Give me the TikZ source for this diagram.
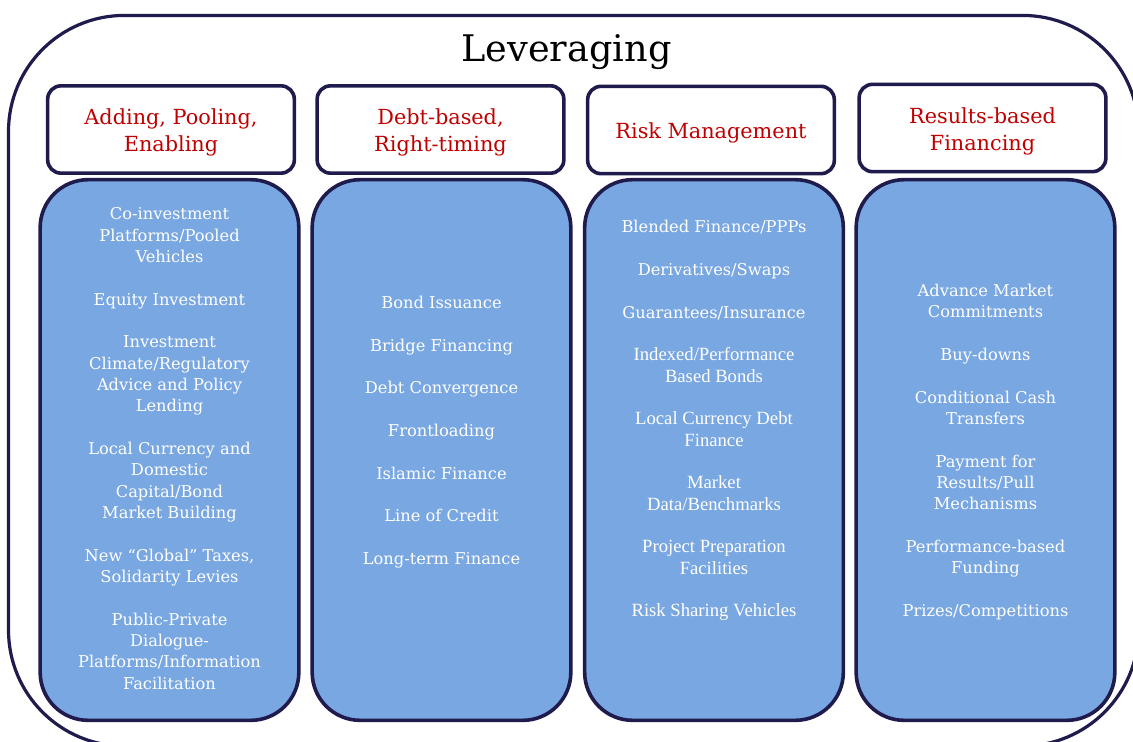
\documentclass[tikz,border=0pt]{standalone}
\usepackage{fontspec}
\setmainfont{DejaVu Serif}
\newfontfamily\timesfont{Liberation Serif}
\usetikzlibrary{positioning}
\definecolor{FrameNavy}{HTML}{1F1B4D}
\definecolor{HeadRed}{HTML}{C00000}
\definecolor{ListBlue}{HTML}{79A7E2}
% blank line between two entries of a list
\newcommand{\nextitem}{\\[16pt]}
\newcommand{\tnr}{\timesfont\fontsize{14}{16}\selectfont}
\tikzset{
  frame/.style={draw=FrameNavy,line width=2.4pt,rounded corners=87pt,minimum width=847.5pt,minimum height=548pt,inner sep=0pt},
  headbox/.style={draw=FrameNavy,fill=white,line width=2.7pt,rounded corners=10pt,minimum width=185pt,minimum height=65.5pt,inner sep=0pt},
  headtext/.style={align=center,text=HeadRed,inner sep=0pt,font=\fontsize{15.6}{20.2}\selectfont},
  listbox/.style={draw=FrameNavy,fill=ListBlue,line width=2.7pt,rounded corners=36pt,minimum width=194pt,minimum height=405.5pt,inner sep=0pt},
  listtext/.style={align=center,text=white,inner sep=0pt,font=\fontsize{12.2}{16}\selectfont}
}

\begin{document}
\begin{tikzpicture}[x=0.75pt,y=-0.75pt,line join=round]
  \useasboundingbox (0,0) rectangle (1133,742);
  \fill[white] (0,0) rectangle (1133,742);
  \clip (0,0) rectangle (1133,742);
  \node[frame] (frame) at (573.5,380.75) {};
  \node[anchor=base,font=\fontsize{27.5}{30}\selectfont] (title) at (566.5,62) {Leveraging};
  % column heads
  \foreach \x/\y/\n in {171/129.5/1,440.5/129.5/2,711/130/3,982.5/128/4}{\node[headbox] (head\n) at (\x,\y) {};}
  \node[headtext] (headname1) at (171,132.5) {Adding, Pooling,\\Enabling};
  \node[headtext] (headname2) at (440.5,132.5) {Debt-based,\\Right-timing};
  \node[headtext] (headname3) at (711,133) {Risk Management};
  \node[headtext] (headname4) at (982.5,131) {Results-based\\Financing};
  % blue list boxes
  \foreach \x/\n in {169.5/1,441.5/2,714/3,985.5/4}{\node[listbox] (list\n) at (\x,450) {};}
  \node[listtext] (items1) at (169.5,448.5) {Co-investment\\Platforms/Pooled\\Vehicles\nextitem
    Equity Investment\nextitem Investment\\Climate/Regulatory\\Advice and Policy\\Lending\nextitem
    Local Currency and\\Domestic\\Capital/Bond\\Market Building\nextitem
    New “Global” Taxes,\\Solidarity Levies\nextitem Public-Private\\Dialogue-\\Platforms/Information\\Facilitation};
  \node[listtext] (items2) at (441.5,432) {Bond Issuance\nextitem Bridge Financing\nextitem Debt Convergence\nextitem
    Frontloading\nextitem Islamic Finance\nextitem Line of Credit\nextitem Long-term Finance};
  \node[listtext] (items3) at (714,420.5) {Blended Finance/PPPs\nextitem Derivatives/Swaps\nextitem Guarantees/Insurance\nextitem
    {\tnr Indexed/Performance}\\{\tnr Based Bonds}\nextitem {\tnr Local Currency Debt}\\{\tnr Finance}\nextitem
    {\tnr Market}\\{\tnr Data/Benchmarks}\nextitem {\tnr Project Preparation}\\{\tnr Facilities}\nextitem
    {\tnr Risk Sharing Vehicles}};
  \node[listtext] (items4) at (985.5,452) {Advance Market\\Commitments\nextitem Buy-downs\nextitem
    Conditional Cash\\Transfers\nextitem Payment for\\Results/Pull\\Mechanisms\nextitem
    Performance-based\\Funding\nextitem Prizes/Competitions};
\end{tikzpicture}
\end{document}
